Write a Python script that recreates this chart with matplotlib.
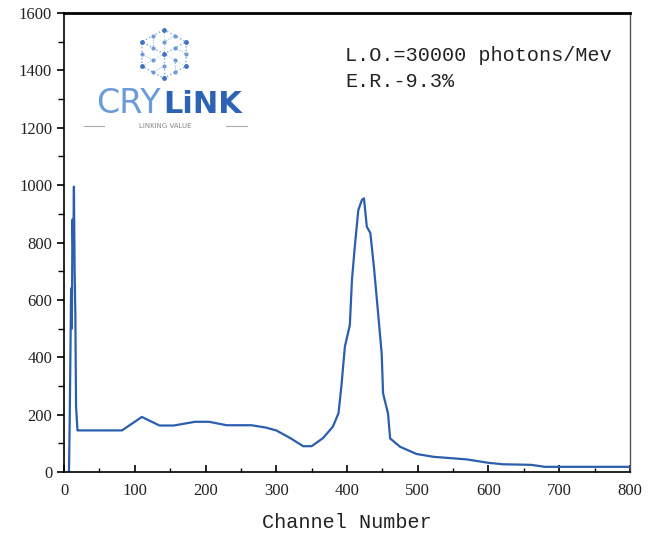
import matplotlib
matplotlib.use("Agg")
import matplotlib.pyplot as plt
from matplotlib.ticker import MultipleLocator
import numpy as np

# spectrum
channel = [7, 8, 9, 10, 11, 12, 13, 14, 15, 16, 17, 19, 20, 82, 110, 135, 155,
           185, 205, 230, 265, 285, 300, 320, 338, 350, 366, 380, 388, 392, 397,
           404, 407, 411, 416, 421, 424, 428, 433, 438, 444, 449, 451, 458, 461,
           475, 498, 522, 569, 600, 620, 660, 680, 800]
counts = [0, 170, 400, 640, 500, 880, 760, 995, 700, 550, 230, 145, 145, 145,
          192, 162, 162, 175, 175, 163, 163, 155, 145, 118, 90, 90, 118, 158,
          205, 297, 437, 512, 669, 785, 913, 948, 954, 855, 833, 716, 553, 414,
          274, 204, 117, 88, 63, 53, 44, 32, 27, 25, 18, 18]

x_ticks = [0, 100, 200, 300, 400, 500, 600, 700, 800]
y_ticks = [0, 200, 400, 600, 800, 1000, 1200, 1400, 1600]
note_lines = ["L.O.=30000 photons/Mev", "E.R.-9.3%"]

line_blue = "#2b5fae"

fig = plt.figure(figsize=(6.6, 5.36), dpi=100)
ax = fig.add_axes([0.097, 0.1194, 0.8575, 0.8563])

ax.plot(channel, counts, color=line_blue, lw=1.6)

ax.set_xlim(0, 800)
ax.set_ylim(0, 1600)
ax.set_xticks(x_ticks)
ax.set_yticks(y_ticks)
ax.xaxis.set_minor_locator(MultipleLocator(50))
ax.yaxis.set_minor_locator(MultipleLocator(100))
ax.tick_params(axis="x", which="both", direction="in", top=False, pad=8)
ax.tick_params(axis="x", which="major", length=5, width=1.2)
ax.tick_params(axis="x", which="minor", length=3, width=1)
ax.tick_params(axis="y", which="both", direction="out", right=False)
ax.tick_params(axis="y", which="major", length=5, width=1.2)
ax.tick_params(axis="y", which="minor", length=4, width=1)
for lab in ax.get_xticklabels() + ax.get_yticklabels():
    lab.set_fontfamily("Liberation Serif")
    lab.set_fontsize(12)
    lab.set_color("#222222")

ax.spines["top"].set_linewidth(2)
ax.spines["left"].set_linewidth(1.2)
ax.spines["bottom"].set_linewidth(1.2)
ax.spines["right"].set_linewidth(1)
ax.spines["right"].set_color("#555555")

ax.set_xlabel("Channel Number", family="Liberation Mono", fontsize=14.5,
              color="#222222", labelpad=10)

ax.text(0.497, 0.908, note_lines[0], transform=ax.transAxes,
        family="Liberation Mono", fontsize=14.5, color="#222222", va="center")
ax.text(0.497, 0.850, note_lines[1], transform=ax.transAxes,
        family="Liberation Mono", fontsize=14.5, color="#222222", va="center")

# logo: dotted cube + wordmark
lax = fig.add_axes([136 / 660, 1 - 82 / 536, 56 / 660, 56 / 536])
lax.set_xlim(-1.1, 1.1)
lax.set_ylim(-1.15, 1.15)
lax.axis("off")
ang = np.deg2rad([90, 30, -30, -90, -150, 150])
hx, hy = np.cos(ang), np.sin(ang)
cube_col = "#7aa6dc"
lax.plot(np.append(hx, hx[0]), np.append(hy, hy[0]), ls=":", color=cube_col, lw=1)
for i in (1, 3, 5):
    lax.plot([0, hx[i]], [0, hy[i]], ls=":", color=cube_col, lw=1)
for i in (0, 2, 4):
    lax.plot([0, hx[i]], [0, hy[i]], ls=":", color=cube_col, lw=0.8, alpha=0.6)
for i in range(6):
    lax.plot([hx[i] / 2, hx[(i + 1) % 6] / 2 + hx[i] / 2],
             [hy[i] / 2, hy[(i + 1) % 6] / 2 + hy[i] / 2], ls=":", color=cube_col, lw=0.7)
lax.scatter(np.append(hx, 0), np.append(hy, 0), s=6, color="#3f72bf", zorder=3)
lax.scatter(hx / 2, hy / 2, s=4, color="#6f9ad6", zorder=3)
lax.scatter((hx + np.roll(hx, -1)) / 2, (hy + np.roll(hy, -1)) / 2, s=4,
            color="#6f9ad6", zorder=3)

fig.text(161 / 660, 1 - 113 / 536, "CRY", family="DejaVu Sans", fontsize=24,
         color="#6b9bd8", va="baseline", ha="right")
fig.text(163 / 660, 1 - 113 / 536, "LiNK", family="DejaVu Sans", fontsize=22,
         fontweight="bold", color="#2d63b5", va="baseline", ha="left")
fig.text(165 / 660, 1 - 126 / 536, "LINKING VALUE", family="DejaVu Sans",
         fontsize=5, color="#888888", va="center", ha="center")
fig.add_artist(plt.Line2D([84 / 660, 104 / 660], [1 - 126 / 536] * 2,
                          color="#aaaaaa", lw=0.8))
fig.add_artist(plt.Line2D([226 / 660, 247 / 660], [1 - 126 / 536] * 2,
                          color="#aaaaaa", lw=0.8))

fig.savefig("out.png", dpi=100)
